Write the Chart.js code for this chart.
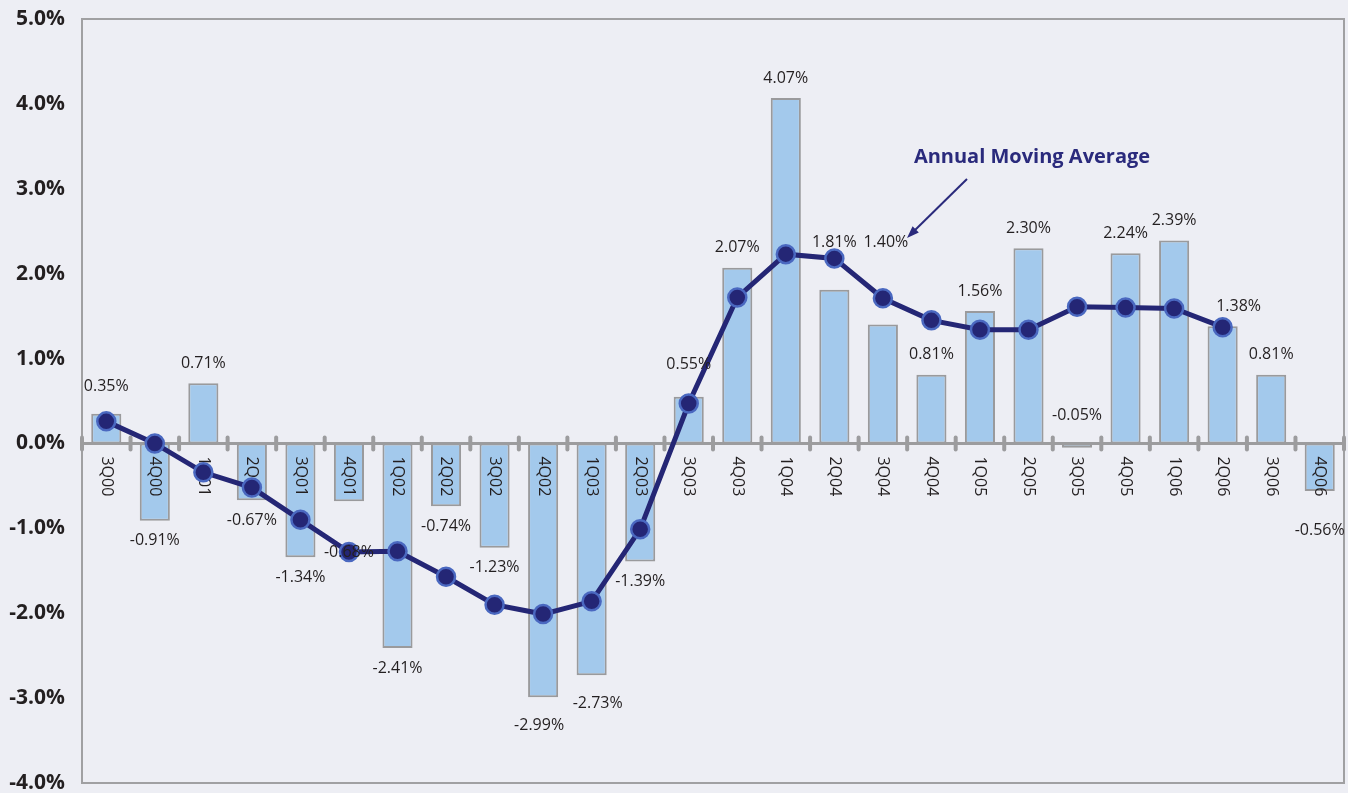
<!DOCTYPE html>
<html>
<head>
<meta charset="utf-8">
<script src="https://cdn.jsdelivr.net/npm/chart.js@4.4.1/dist/chart.umd.min.js"></script>
<style>
    html, body { margin: 0; padding: 0; background: #edeef4; overflow: hidden; }
    #wrap { width: 1348px; height: 793px; position: relative; }
</style>
</head>
<body>
<div id="wrap"><canvas id="growthChart"></canvas></div>
<script>
// --- Data ---
const quarters = ['3Q00', '4Q00', '1Q01', '2Q01', '3Q01', '4Q01', '1Q02', '2Q02', '3Q02', '4Q02',
    '1Q03', '2Q03', '3Q03', '4Q03', '1Q04', '2Q04', '3Q04', '4Q04', '1Q05', '2Q05',
    '3Q05', '4Q05', '1Q06', '2Q06', '3Q06', '4Q06'];

const quarterlyChange = [0.35, -0.91, 0.71, -0.67, -1.34, -0.68, -2.41, -0.74, -1.23, -2.99,
    -2.73, -1.39, 0.55, 2.07, 4.07, 1.81, 1.40, 0.81, 1.56, 2.30,
    -0.05, 2.24, 2.39, 1.38, 0.81, -0.56];

const movingAverage = [0.26, 0.00, -0.34, -0.52, -0.90, -1.28, -1.27, -1.57, -1.90, -2.01,
    -1.86, -1.01, 0.47, 1.72, 2.23, 2.18, 1.71, 1.45, 1.34, 1.34,
    1.61, 1.60, 1.59, 1.37, null, null];

const yMin = -4, yMax = 5;
const annotationText = 'Annual Moving Average';

// label nudges (px) where the original moved a value label off its default spot
const labelNudge = {
    0: { dy: 7 }, 5: { dy: 31 }, 9: { dy: 8, dx: -4 }, 10: { dy: 8, dx: 6 },
    12: { dy: 12 }, 15: { dy: 27 }, 16: { dy: 62, dx: 3 }, 20: { above: true, dy: 8 },
    23: { dx: 16 }, 25: { dy: 19 }
};

const BG = '#edeef4';
const FRAME = '#a0a0a2';
const TEXT = '#231f20';
const NAVY = '#242675';

// --- Plugins ---
const backdrop = {
    id: 'backdrop',
    beforeDraw(chart) {
        const c = chart.ctx;
        c.save();
        c.fillStyle = BG;
        c.fillRect(0, 0, chart.width, chart.height);
        c.restore();
    }
};

// frame, zero axis and category labels go between the bars and the line
const barDecor = {
    id: 'barDecor',
    afterDatasetDraw(chart, args) {
        if (args.index !== 0) return;
        const c = chart.ctx;
        const area = chart.chartArea;
        const x = chart.scales.x, y = chart.scales.y;
        const zeroY = y.getPixelForValue(0);
        const step = (area.right - area.left) / quarters.length;

        c.save();
        c.strokeStyle = FRAME;
        c.lineWidth = 2;
        c.strokeRect(area.left, area.top, area.right - area.left, area.bottom - area.top);

        c.strokeStyle = '#9c9c9e';
        c.lineWidth = 3;
        c.beginPath();
        c.moveTo(area.left, zeroY);
        c.lineTo(area.right, zeroY);
        c.stroke();
        c.lineWidth = 4;
        c.lineCap = 'round';
        for (let i = 0; i <= quarters.length; i++) {
            const tx = area.left + i * step;
            c.beginPath();
            c.moveTo(tx, zeroY - 6);
            c.lineTo(tx, zeroY + 6);
            c.stroke();
        }

        c.fillStyle = TEXT;
        c.font = '16px "Open Sans", sans-serif';
        c.textAlign = 'left';
        c.textBaseline = 'middle';
        quarters.forEach((q, i) => {
            const cx = x.getPixelForValue(i);
            c.save();
            c.translate(cx, zeroY + 13);
            c.rotate(Math.PI / 2);
            c.fillText(q, 0, 0);
            c.restore();
        });
        c.restore();
    }
};

// value labels, annotation and arrow on top
const callout = {
    id: 'callout',
    afterDraw(chart) {
        const c = chart.ctx;
        const zeroY = chart.scales.y.getPixelForValue(0);
        c.save();
        c.fillStyle = TEXT;
        c.font = '16px "Open Sans", sans-serif';
        c.textAlign = 'center';
        c.textBaseline = 'middle';
        const bars = chart.getDatasetMeta(0).data;
        quarterlyChange.forEach((v, i) => {
            const n = labelNudge[i] || {};
            const bar = bars[i];
            const gap = 20 + (n.dy || 0);
            let ly;
            if (n.above) ly = zeroY - gap;
            else ly = v >= 0 ? bar.y - gap : bar.y + gap;
            c.fillText(v.toFixed(2) + '%', bar.x + (n.dx || 0), ly);
        });

        c.fillStyle = '#2a2a7c';
        c.font = 'bold 20px "Open Sans", sans-serif';
        c.fillText(annotationText, 1032, 157);

        const x1 = 967, y1 = 179, x2 = 907, y2 = 238;
        c.strokeStyle = '#2a2a7c';
        c.lineWidth = 2;
        c.beginPath();
        c.moveTo(x1, y1);
        c.lineTo(x2 + 4, y2 - 4);
        c.stroke();
        const ang = Math.atan2(y2 - y1, x2 - x1);
        c.beginPath();
        c.moveTo(x2, y2);
        c.lineTo(x2 - 13 * Math.cos(ang - 0.35), y2 - 13 * Math.sin(ang - 0.35));
        c.lineTo(x2 - 13 * Math.cos(ang + 0.35), y2 - 13 * Math.sin(ang + 0.35));
        c.closePath();
        c.fill();
        c.restore();
    }
};

// --- Chart ---
const ctx = document.getElementById('growthChart').getContext('2d');

new Chart(ctx, {
    data: {
        labels: quarters,
        datasets: [
            {
                type: 'bar',
                label: 'Quarterly change',
                data: quarterlyChange,
                backgroundColor: '#a3c9ec',
                borderColor: '#9a9a9c',
                borderWidth: 2,
                borderSkipped: false,
                barPercentage: 0.62,
                categoryPercentage: 1,
                order: 2
            },
            {
                type: 'line',
                label: 'Annual Moving Average',
                data: movingAverage,
                borderColor: NAVY,
                borderWidth: 5,
                pointRadius: 9,
                pointBackgroundColor: NAVY,
                pointBorderColor: '#4a68c0',
                pointBorderWidth: 2.5,
                tension: 0,
                spanGaps: false,
                order: 1
            }
        ]
    },
    options: {
        responsive: true,
        maintainAspectRatio: false,
        animation: false,
        devicePixelRatio: 1,
        layout: { autoPadding: false, padding: { top: 19, right: 4, bottom: 10, left: 0 } },
        plugins: {
            legend: { display: false },
            tooltip: { enabled: false }
        },
        scales: {
            x: {
                display: false,
                offset: true
            },
            y: {
                min: yMin,
                max: yMax,
                grid: { display: false, drawTicks: false },
                border: { display: false },
                ticks: {
                    stepSize: 1,
                    padding: 17,
                    color: TEXT,
                    font: { family: '"Open Sans", sans-serif', size: 21, weight: 'bold' },
                    callback: v => v.toFixed(1) + '%'
                },
                afterFit(scale) {
                    scale.width = 82;
                    scale.paddingTop = 0;
                    scale.paddingBottom = 0;
                }
            }
        }
    },
    plugins: [backdrop, barDecor, callout]
});
</script>
</body>
</html>
